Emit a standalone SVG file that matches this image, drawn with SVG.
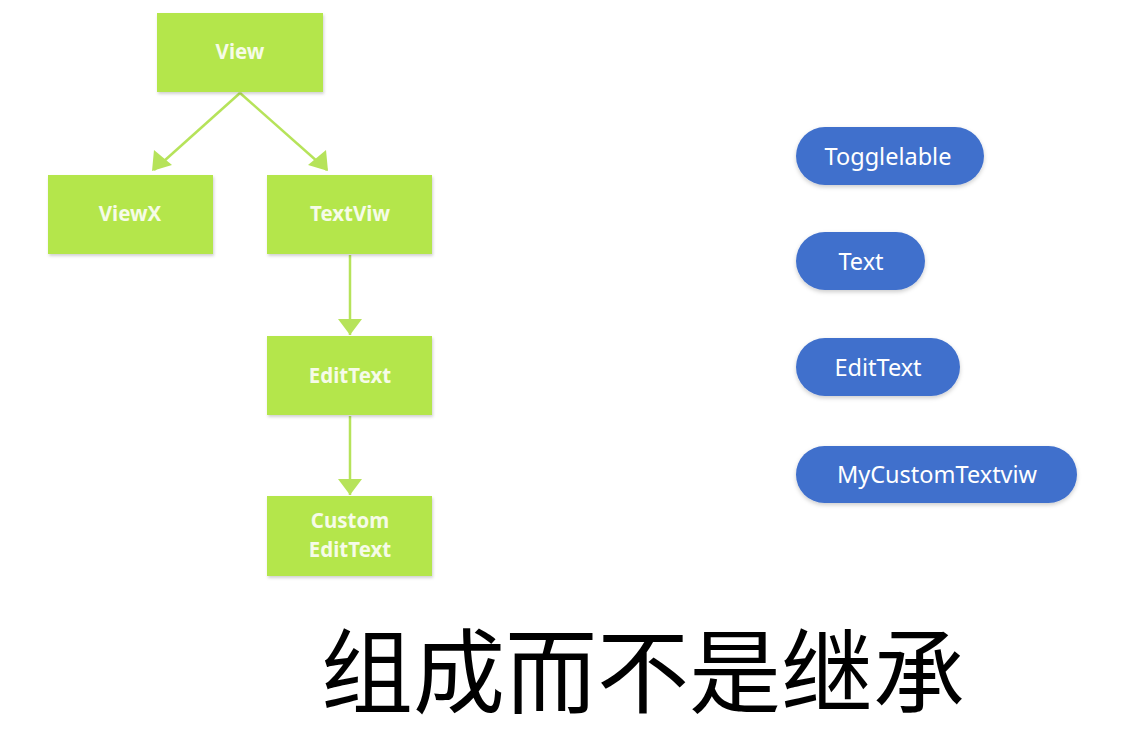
<svg xmlns="http://www.w3.org/2000/svg" width="1132" height="754" viewBox="0 0 1132 754">
<defs>
<style>
.box{fill:#b4e64b;filter:url(#sh)}
.bt{font-family:"Noto Sans","Open Sans",sans-serif;font-weight:bold;font-size:20.5px;fill:#f6fbe8;text-anchor:middle}
.pill{fill:#4070cc;filter:url(#sh2)}
.pt{font-family:"Noto Sans","Open Sans",sans-serif;font-size:23.5px;fill:#ffffff;text-anchor:middle}
.con{stroke:#b6e35a;stroke-width:2.5;fill:none}
.head{fill:#b6e35a}
</style>
<filter id="sh" x="-10%" y="-10%" width="130%" height="130%"><feDropShadow dx="1" dy="2" stdDeviation="1.5" flood-color="#000" flood-opacity="0.18"/></filter>
<filter id="sh2" x="-10%" y="-10%" width="130%" height="130%"><feDropShadow dx="0" dy="2" stdDeviation="2" flood-color="#000" flood-opacity="0.2"/></filter>
</defs>
<rect width="1132" height="754" fill="#ffffff"/>
<g id="connectors">
<path class="con" d="M240,93 L154,170"/>
<path class="con" d="M240,93 L327,170"/>
<path class="con" d="M350,255 L350,335"/>
<path class="con" d="M350,416 L350,495"/>
<polygon class="head" points="152,171 154,150 172,165"/>
<polygon class="head" points="328,171 326,150 308,165"/>
<polygon class="head" points="350,335 338,319 362,319"/>
<polygon class="head" points="350,495 338,479 362,479"/>
</g>
<g id="n-view"><rect class="box" x="157" y="13" width="166" height="79"/><text class="bt" x="240" y="59">View</text></g>
<g id="n-viewx"><rect class="box" x="48" y="175" width="165" height="79"/><text class="bt" x="130" y="221">ViewX</text></g>
<g id="n-textviw"><rect class="box" x="267" y="175" width="165" height="79"/><text class="bt" x="350" y="221">TextViw</text></g>
<g id="n-edittext"><rect class="box" x="267" y="336" width="165" height="79"/><text class="bt" x="350" y="383">EditText</text></g>
<g id="n-custom"><rect class="box" x="267" y="496" width="165" height="80"/><text class="bt" x="350" y="528">Custom</text><text class="bt" x="350" y="557">EditText</text></g>
<g id="p-toggle"><rect class="pill" x="796" y="127" width="188" height="58" rx="29"/><text class="pt" x="888" y="165">Togglelable</text></g>
<g id="p-text"><rect class="pill" x="796" y="232" width="129" height="58" rx="29"/><text class="pt" x="861" y="270">Text</text></g>
<g id="p-edittext"><rect class="pill" x="796" y="338" width="164" height="58" rx="29"/><text class="pt" x="878" y="376">EditText</text></g>
<g id="p-mycustom"><rect class="pill" x="796" y="446" width="281" height="57" rx="28.5"/><text class="pt" x="937" y="483">MyCustomTextviw</text></g>
<text x="643" y="706" font-family="'Noto Sans CJK SC',sans-serif" font-size="92" fill="#000" text-anchor="middle">组成而不是继承</text>
</svg>
